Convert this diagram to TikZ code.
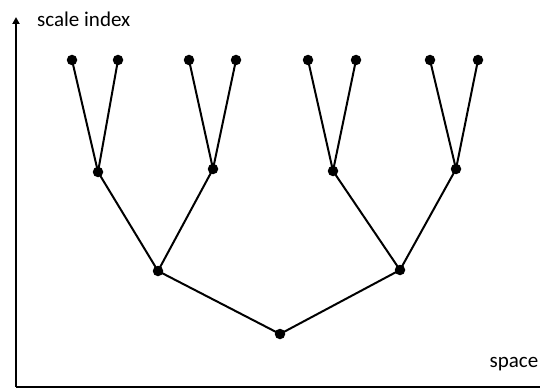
\documentclass[tikz,border=0pt]{standalone}
\usepackage{fontspec}
\setmainfont{Carlito}
\usetikzlibrary{arrows.meta}
\begin{document}
\begin{tikzpicture}[x=1pt,y=-1pt,
  dot/.style={circle,fill=black,inner sep=0pt,minimum size=10.5pt},
  edge/.style={line width=2pt},
  axis/.style={line width=1.8pt},
  lbl/.style={font=\fontsize{21}{25}\selectfont,inner sep=0pt}]
\useasboundingbox (0,0) rectangle (540,390);
% axes
\coordinate (o) at (16,387);
\coordinate (ytop) at (16,17);
\coordinate (xend) at (541,387);
\draw[axis,-{Triangle[length=7pt,width=7pt]}] (o) -- (ytop);
\draw[axis] (o) -- (xend);
\node[lbl,anchor=west] (ylab) at (37,19) {scale index};
\node[lbl,anchor=east] (xlab) at (538.5,364) {space};
% nodes
\node[dot] (r) at (280,334) {};
\node[dot] (a) at (158,271) {};
\node[dot] (b) at (400,270) {};
\node[dot] (a1) at (98,172) {};
\node[dot] (a2) at (213,169) {};
\node[dot] (b1) at (333,171) {};
\node[dot] (b2) at (456,169) {};
\node[dot] (l1) at (72,60) {};
\node[dot] (l2) at (118,60) {};
\node[dot] (l3) at (189,60) {};
\node[dot] (l4) at (236,60) {};
\node[dot] (l5) at (308,60) {};
\node[dot] (l6) at (356,60) {};
\node[dot] (l7) at (430,60) {};
\node[dot] (l8) at (478,60) {};
% edges
\draw[edge] (r.center) -- (a.center) (r.center) -- (b.center);
\draw[edge] (a.center) -- (a1.center) (a.center) -- (a2.center);
\draw[edge] (b.center) -- (b1.center) (b.center) -- (b2.center);
\draw[edge] (a1.center) -- (l1.center) (a1.center) -- (l2.center);
\draw[edge] (a2.center) -- (l3.center) (a2.center) -- (l4.center);
\draw[edge] (b1.center) -- (l5.center) (b1.center) -- (l6.center);
\draw[edge] (b2.center) -- (l7.center) (b2.center) -- (l8.center);
\end{tikzpicture}
\end{document}
